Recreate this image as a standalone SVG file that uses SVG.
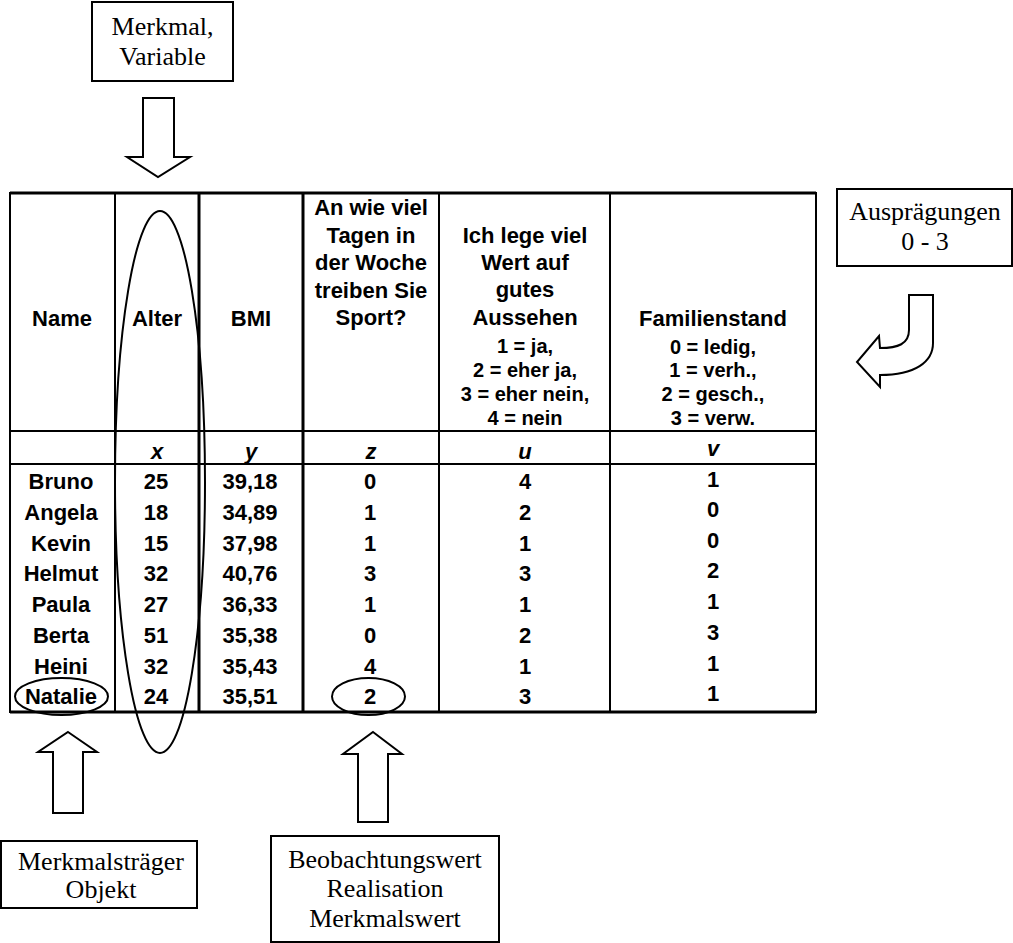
<svg xmlns="http://www.w3.org/2000/svg" width="1013" height="943" viewBox="0 0 1013 943">
<style>
.bx{fill:#fff;stroke:#000;stroke-width:2}
.ser{font-family:"Liberation Serif","Times New Roman",serif;font-size:26px;fill:#000;text-anchor:middle}
.tb{font-family:"Liberation Sans",Arial,sans-serif;font-weight:bold;font-size:22px;fill:#000;text-anchor:middle}
.sm{font-family:"Liberation Sans",Arial,sans-serif;font-weight:bold;font-size:20px;fill:#000;text-anchor:middle}
.it{font-style:italic}
.ln{stroke:#000;stroke-width:2;fill:none}
.thk{stroke:#000;stroke-width:3;fill:none}
.arr{fill:#fff;stroke:#000;stroke-width:2;stroke-linejoin:miter}
.ov{fill:none;stroke:#000;stroke-width:2}
</style>
<rect width="1013" height="943" fill="#fff"/>

<g id="table">
  <rect x="10" y="193" width="806" height="519" class="ln" stroke-width="2.5"/>
  <line x1="10" y1="193" x2="816" y2="193" class="thk"/>
  <line x1="10" y1="431" x2="816" y2="431" class="ln"/>
  <line x1="10" y1="464" x2="816" y2="464" class="ln"/>
  <line x1="10" y1="712" x2="816" y2="712" class="thk"/>
  <line x1="115" y1="193" x2="115" y2="712" class="ln"/>
  <line x1="199" y1="193" x2="199" y2="712" class="thk"/>
  <line x1="303" y1="193" x2="303" y2="712" class="thk"/>
  <line x1="439" y1="193" x2="439" y2="712" class="ln"/>
  <line x1="610" y1="193" x2="610" y2="712" class="ln"/>

  <text class="tb" x="62" y="326">Name</text>
  <text class="tb" x="157" y="326">Alter</text>
  <text class="tb" x="251" y="326">BMI</text>
  <text class="tb" x="371" y="215">An wie viel</text>
  <text class="tb" x="371" y="243">Tagen in</text>
  <text class="tb" x="371" y="270">der Woche</text>
  <text class="tb" x="371" y="298">treiben Sie</text>
  <text class="tb" x="371" y="325">Sport?</text>
  <text class="tb" x="525" y="243">Ich lege viel</text>
  <text class="tb" x="525" y="270">Wert auf</text>
  <text class="tb" x="525" y="297">gutes</text>
  <text class="tb" x="525" y="325">Aussehen</text>
  <text class="sm" x="525" y="353">1 = ja,</text>
  <text class="sm" x="525" y="377">2 = eher ja,</text>
  <text class="sm" x="525" y="401">3 = eher nein,</text>
  <text class="sm" x="525" y="425">4 = nein</text>
  <text class="tb" x="713" y="326">Familienstand</text>
  <text class="sm" x="713" y="354">0 = ledig,</text>
  <text class="sm" x="713" y="377">1 = verh.,</text>
  <text class="sm" x="713" y="401">2 = gesch.,</text>
  <text class="sm" x="713" y="425">3 = verw.</text>

  <text class="tb it" x="157" y="459">x</text>
  <text class="tb it" x="251" y="459">y</text>
  <text class="tb it" x="371" y="459">z</text>
  <text class="tb it" x="525" y="459">u</text>
  <text class="tb it" x="713" y="456">v</text>

  <g id="col-name">
    <text class="tb" x="61" y="489">Bruno</text>
    <text class="tb" x="61" y="520">Angela</text>
    <text class="tb" x="61" y="551">Kevin</text>
    <text class="tb" x="61" y="581">Helmut</text>
    <text class="tb" x="61" y="612">Paula</text>
    <text class="tb" x="61" y="643">Berta</text>
    <text class="tb" x="61" y="674">Heini</text>
    <text class="tb" x="61" y="704">Natalie</text>
  </g>
  <g id="col-x">
    <text class="tb" x="156" y="489">25</text>
    <text class="tb" x="156" y="520">18</text>
    <text class="tb" x="156" y="551">15</text>
    <text class="tb" x="156" y="581">32</text>
    <text class="tb" x="156" y="612">27</text>
    <text class="tb" x="156" y="643">51</text>
    <text class="tb" x="156" y="674">32</text>
    <text class="tb" x="156" y="704">24</text>
  </g>
  <g id="col-y">
    <text class="tb" x="250" y="489">39,18</text>
    <text class="tb" x="250" y="520">34,89</text>
    <text class="tb" x="250" y="551">37,98</text>
    <text class="tb" x="250" y="581">40,76</text>
    <text class="tb" x="250" y="612">36,33</text>
    <text class="tb" x="250" y="643">35,38</text>
    <text class="tb" x="250" y="674">35,43</text>
    <text class="tb" x="250" y="704">35,51</text>
  </g>
  <g id="col-z">
    <text class="tb" x="370" y="489">0</text>
    <text class="tb" x="370" y="520">1</text>
    <text class="tb" x="370" y="551">1</text>
    <text class="tb" x="370" y="581">3</text>
    <text class="tb" x="370" y="612">1</text>
    <text class="tb" x="370" y="643">0</text>
    <text class="tb" x="370" y="674">4</text>
    <text class="tb" x="370" y="704">2</text>
  </g>
  <g id="col-u">
    <text class="tb" x="525" y="489">4</text>
    <text class="tb" x="525" y="520">2</text>
    <text class="tb" x="525" y="551">1</text>
    <text class="tb" x="525" y="581">3</text>
    <text class="tb" x="525" y="612">1</text>
    <text class="tb" x="525" y="643">2</text>
    <text class="tb" x="525" y="674">1</text>
    <text class="tb" x="525" y="704">3</text>
  </g>
  <g id="col-v">
    <text class="tb" x="713" y="487">1</text>
    <text class="tb" x="713" y="517">0</text>
    <text class="tb" x="713" y="548">0</text>
    <text class="tb" x="713" y="578">2</text>
    <text class="tb" x="713" y="609">1</text>
    <text class="tb" x="713" y="640">3</text>
    <text class="tb" x="713" y="671">1</text>
    <text class="tb" x="713" y="701">1</text>
  </g>
</g>

<g id="highlights">
  <ellipse id="ellipse-alter" class="ov" cx="160" cy="482" rx="45" ry="271"/>
  <ellipse id="ellipse-natalie" class="ov" cx="61.5" cy="696.5" rx="46.5" ry="18.5"/>
  <ellipse id="ellipse-value" class="ov" cx="368.5" cy="696.5" rx="36.5" ry="18.5"/>
</g>

<g id="node-merkmal">
  <rect class="bx" x="92" y="2" width="141" height="79"/>
  <text class="ser" x="162.5" y="35">Merkmal,</text>
  <text class="ser" x="162.5" y="65">Variable</text>
</g>
<g id="node-auspraegungen">
  <rect class="bx" x="837" y="189" width="175" height="77"/>
  <text class="ser" x="925" y="220" font-size="25">Ausprägungen</text>
  <text class="ser" x="925" y="250" font-size="25">0 - 3</text>
</g>
<g id="node-merkmalstraeger">
  <rect class="bx" x="1" y="841" width="196" height="67"/>
  <text class="ser" x="101" y="870">Merkmalsträger</text>
  <text class="ser" x="101" y="898">Objekt</text>
</g>
<g id="node-beobachtungswert">
  <rect class="bx" x="271" y="836" width="228" height="106"/>
  <text class="ser" x="385" y="868">Beobachtungswert</text>
  <text class="ser" x="385" y="897">Realisation</text>
  <text class="ser" x="385" y="927">Merkmalswert</text>
</g>

<g id="connectors">
  <path class="arr" d="M143 98 L174 98 L174 157 L190 157 L158 177 L127 157 L143 157 Z"/>
  <path class="arr" d="M68 732 L97 752 L83 752 L83 813 L53 813 L53 752 L38 752 Z"/>
  <path class="arr" d="M373 732 L402 754 L388 754 L388 822 L358 822 L358 754 L343 754 Z"/>
  <path class="arr" d="M909 295 L933 295 L933 343 C933 362 915 375 880 375 L880 387 L857 362 L879 336 L880 348 C898 348 909 344 909 330 Z"/>
</g>
</svg>
